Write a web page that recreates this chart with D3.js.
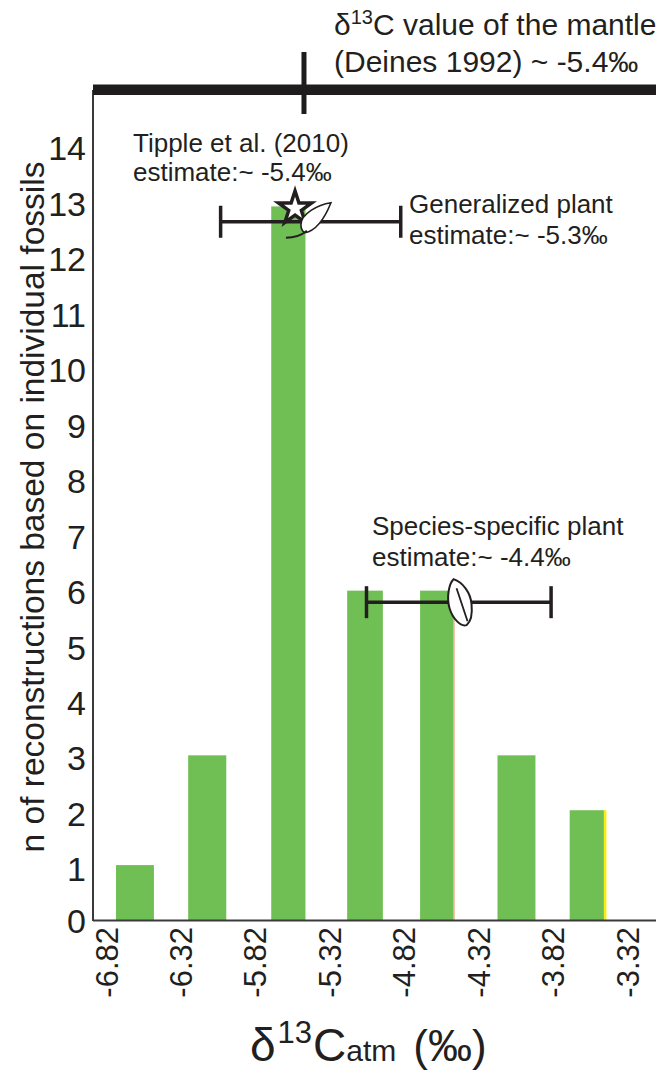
<!DOCTYPE html>
<html><head><meta charset="utf-8">
<script src="https://cdn.jsdelivr.net/npm/d3@7"></script>
<style>html,body{margin:0;padding:0;background:#fff}svg{display:block}text{font-family:"Liberation Sans",Arial,sans-serif;fill:#231f20}</style>
</head><body><div id="c"></div>
<script>
const tickLabels = ["-6.82","-6.32","-5.82","-5.32","-4.82","-4.32","-3.82","-3.32"];
const yTicks = d3.range(0,15);
const binStart = [-6.753,-6.268,-5.71,-5.20,-4.71,-4.19,-3.705];
const binEnd   = [-6.498,-6.012,-5.48,-4.96,-4.485,-3.935,-3.475];
const counts   = [1,3,13,6,6,3,2];
const edgeColors = [null,null,null,null,"#e8a070",null,"#f7ec13"];
const ranges = [
  {low:-6.05,high:-4.84,n:12.72,mark:-5.45},
  {low:-5.07,high:-3.83,n:5.79,mark:-4.445}
];
const mantleValue = -5.49;
const starPoint = {x:-5.55,n:13.0};

const W=656,H=1072;
const x=d3.scaleLinear().domain([-6.82,-3.32]).range([106,627]);
const y=d3.scaleLinear().domain([0,14]).range([920,151.5]);
const svg=d3.select("#c").append("svg").attr("width",W).attr("height",H);

// bars
svg.selectAll("rect.bar").data(counts).join("rect").attr("class","bar")
  .attr("x",(d,i)=>x(binStart[i])).attr("width",(d,i)=>x(binEnd[i])-x(binStart[i]))
  .attr("y",d=>y(d)).attr("height",d=>y(0)-y(d)).attr("fill","#70bf54");
svg.selectAll("rect.edge").data(counts).join("rect").attr("class","edge")
  .attr("x",(d,i)=>x(binEnd[i])).attr("width",(d,i)=>i==6?2.5:1)
  .attr("y",d=>y(d)).attr("height",d=>y(0)-y(d))
  .attr("fill",(d,i)=>edgeColors[i]||"none");

// axes
const yAxis=d3.axisLeft(y).tickValues(yTicks).tickSize(0).tickPadding(7).tickFormat(d3.format("d"));
const gy=svg.append("g").attr("transform","translate(93,0)").call(yAxis);
gy.select(".domain").remove();
gy.selectAll("text").attr("font-size",34).attr("fill","#231f20").attr("dy","0.35em")
  .attr("transform",d=>`translate(0,${d===0?1:4.5-0.58*d})`);
svg.append("line").attr("x1",93).attr("x2",93).attr("y1",90).attr("y2",921).attr("stroke","#3a3a3a").attr("stroke-width",2);

const xAxis=d3.axisBottom(x).tickValues(tickLabels.map(Number)).tickSize(0).tickFormat((d,i)=>tickLabels[i]);
const gx=svg.append("g").attr("transform","translate(0,920)").call(xAxis);
gx.select(".domain").remove();
svg.append("line").attr("x1",93).attr("x2",656).attr("y1",920.5).attr("y2",920.5).attr("stroke","#3a3a3a").attr("stroke-width",2);
gx.selectAll("text").attr("font-size",31).attr("fill","#231f20").attr("text-anchor","end").attr("dy",0)
  .attr("transform","translate(11,7) rotate(-90)").attr("x",0).attr("y",0);

// top bar and mantle tick
svg.append("rect").attr("x",93).attr("y",84.5).attr("width",563).attr("height",10.5).attr("fill","#1f1c1d");
svg.append("line").attr("x1",x(mantleValue)).attr("x2",x(mantleValue)).attr("y1",52).attr("y2",114).attr("stroke","#1f1c1d").attr("stroke-width",5);

// ranges
const rg=svg.selectAll("g.range").data(ranges).join("g").attr("class","range");
rg.append("line").attr("x1",d=>x(d.low)).attr("x2",d=>x(d.high)).attr("y1",d=>y(d.n)).attr("y2",d=>y(d.n)).attr("stroke","#231f20").attr("stroke-width",3.5);
rg.each(function(d){
  [d.low,d.high].forEach(v=>d3.select(this).append("line").attr("x1",x(v)).attr("x2",x(v)).attr("y1",y(d.n)-16).attr("y2",y(d.n)+16).attr("stroke","#231f20").attr("stroke-width",3.5));
});

// star
svg.append("path").attr("d",d3.symbol(d3.symbolStar,340)())
  .attr("transform",`translate(${x(starPoint.x)},${y(starPoint.n)+2})`)
  .attr("fill","#fff").attr("stroke","#231f20").attr("stroke-width",3.5).attr("stroke-linejoin","miter");

// leaf 1
const L1=svg.append("g").attr("transform",`translate(${x(ranges[0].mark)},${y(ranges[0].n)})`);
L1.append("path").attr("d","M21,-19 C8,-17 -9,-8 -9,3 C-9,7 -7,10 -5,11 C6,9 15,-4 21,-19 Z").attr("fill","#fff").attr("stroke","#231f20").attr("stroke-width",1.6);
L1.append("path").attr("d","M-24,16 C-16,16 -9,14 -3,9").attr("fill","none").attr("stroke","#231f20").attr("stroke-width",1.8);

// leaf 2
const L2=svg.append("g").attr("transform",`translate(${x(ranges[1].mark)},${y(ranges[1].n)})`);
L2.append("path").attr("d","M-6,-23 C3,-20 11,-10 12,2 C13,12 12,19 7,23 C1,25 -7,16 -10,6 C-13,-4 -11,-18 -6,-23 Z").attr("fill","#fff").attr("stroke","#231f20").attr("stroke-width",2);
L2.append("line").attr("x1",-3).attr("y1",-14).attr("x2",8).attr("y2",19).attr("stroke","#231f20").attr("stroke-width",1.8);

// annotations
function label(tx,ty,size,parts,anchor){
  const t=svg.append("text").attr("x",tx).attr("y",ty).attr("font-size",size).attr("text-anchor",anchor||"start");
  parts.forEach(p=>{const s=t.append("tspan").text(p.t);
    if(p.size)s.attr("font-size",p.size); if(p.dy)s.attr("dy",p.dy); if(p.dx)s.attr("dx",p.dx);});
  return t;
}
label(334,35,30,[{t:"δ"},{t:"13",size:20,dy:-11},{t:"C value of the mantle",dy:11}]);
label(334,72,30,[{t:"(Deines 1992) ~ -5.4‰"}]);
label(133,152,26,[{t:"Tipple et al. (2010)"}]);
label(133,181,26,[{t:"estimate:~ -5.4‰"}]);
label(409,213,26,[{t:"Generalized plant"}]);
label(409,244,26,[{t:"estimate:~ -5.3‰"}]);
label(372,535,26,[{t:"Species-specific plant"}]);
label(372,566,26,[{t:"estimate:~ -4.4‰"}]);

// axis titles
svg.append("text").attr("transform","translate(44,507) rotate(-90)").attr("text-anchor","middle").attr("font-size",33.5)
  .text("n of reconstructions based on individual fossils");
label(250,1061,46,[{t:"δ"},{t:"13",size:31,dy:-18,dx:2},{t:"C",dy:18,dx:1},{t:"atm",size:30},{t:"(‰)",size:44,dx:17}]);
</script></body></html>
